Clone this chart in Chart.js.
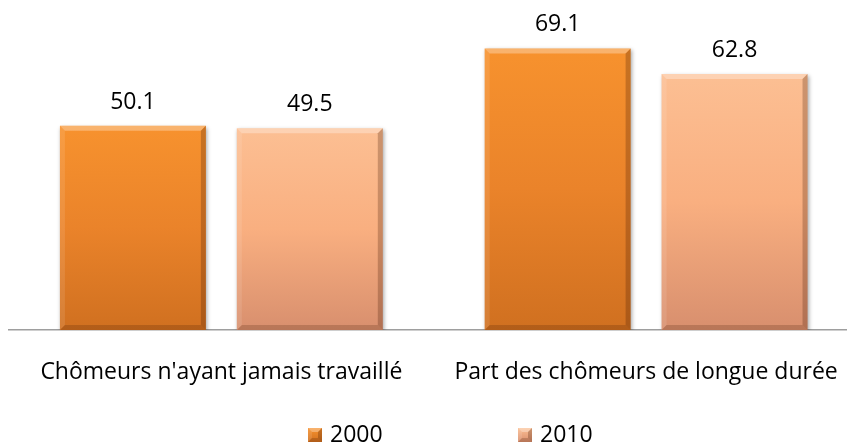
<!DOCTYPE html>
<html>
<head>
<meta charset="utf-8">
<script src="https://cdn.jsdelivr.net/npm/chart.js@4.4.1/dist/chart.umd.min.js"></script>
<style>
  html, body { margin: 0; padding: 0; background: #fff; overflow: hidden; }
</style>
</head>
<body>
<canvas id="myChart" width="847" height="446"></canvas>
<script>
const categories = ["Chômeurs n'ayant jamais travaillé", "Part des chômeurs de longue durée"];
const seriesNames = ["2000", "2010"];
const values2000 = [50.1, 69.1];
const values2010 = [49.5, 62.8];

const FONT = "'Open Sans', 'Noto Sans', sans-serif";

// top -> bottom shading of each series (Excel style bevelled bars)
const shades = [
  { top: "#f7922e", mid: "#ea832a", bottom: "#d07020" },
  { top: "#fcbf93", mid: "#f9af80", bottom: "#d88f6e" },
];

const barFill = (si) => (ctx) => {
  const chart = ctx.chart;
  if (!chart.chartArea || !ctx.parsed) return shades[si].mid;
  const yScale = chart.scales.y;
  const top = yScale.getPixelForValue(ctx.parsed.y);
  const base = yScale.getPixelForValue(0);
  const g = chart.ctx.createLinearGradient(0, top, 0, base);
  g.addColorStop(0, shades[si].top);
  g.addColorStop(0.5, shades[si].mid);
  g.addColorStop(1, shades[si].bottom);
  return g;
};

// soft shadow under the bars
const barShadow = {
  id: "barShadow",
  beforeDatasetsDraw(chart) {
    const ctx = chart.ctx;
    ctx.save();
    ctx.shadowColor = "rgba(0,0,0,0.35)";
    ctx.shadowBlur = 4;
    ctx.shadowOffsetX = 1.5;
    ctx.shadowOffsetY = 2;
  },
  afterDatasetsDraw(chart) {
    chart.ctx.restore();
  },
};

const drawBevel = (ctx, l, t, r, b, s) => {
  const faces = [
    [[l, t], [r, t], [r - s, t + s], [l + s, t + s], "rgba(255,255,255,0.3)"],
    [[l, t], [l + s, t + s], [l + s, b - s], [l, b], "rgba(255,255,255,0.1)"],
    [[r, t], [r, b], [r - s, b - s], [r - s, t + s], "rgba(60,20,0,0.25)"],
    [[l, b], [l + s, b - s], [r - s, b - s], [r, b], "rgba(60,20,0,0.2)"],
  ];
  faces.forEach((f) => {
    ctx.beginPath();
    ctx.moveTo(f[0][0], f[0][1]);
    for (let k = 1; k < 4; k++) ctx.lineTo(f[k][0], f[k][1]);
    ctx.closePath();
    ctx.fillStyle = f[4];
    ctx.fill();
  });
};

const barBevel = {
  id: "barBevel",
  afterDatasetsDraw(chart) {
    const ctx = chart.ctx;
    ctx.save();
    chart.data.datasets.forEach((ds, di) => {
      chart.getDatasetMeta(di).data.forEach((bar) => {
        const l = bar.x - bar.width / 2;
        const r = bar.x + bar.width / 2;
        drawBevel(ctx, l, bar.y, r, bar.base, 5);
      });
    });
    ctx.restore();
  },
};

const valueLabels = {
  id: "valueLabels",
  afterDatasetsDraw(chart) {
    const ctx = chart.ctx;
    ctx.save();
    ctx.font = "23px " + FONT;
    ctx.fillStyle = "#000";
    ctx.textAlign = "center";
    ctx.textBaseline = "alphabetic";
    chart.data.datasets.forEach((ds, di) => {
      chart.getDatasetMeta(di).data.forEach((bar, i) => {
        ctx.fillText(ds.data[i].y.toFixed(1), bar.x, bar.y - 17);
      });
    });
    ctx.restore();
  },
};

// legend drawn by hand: Excel leaves a wide gap between the two entries
const bottomLegend = {
  id: "bottomLegend",
  afterDraw(chart) {
    const ctx = chart.ctx;
    ctx.save();
    ctx.font = "23px " + FONT;
    ctx.textBaseline = "middle";
    ctx.textAlign = "left";
    chart.data.datasets.forEach((ds, di) => {
      const x = 308 + di * 210;
      const y = 435;
      const g = ctx.createLinearGradient(0, y - 7, 0, y + 7);
      g.addColorStop(0, shades[di].top);
      g.addColorStop(1, shades[di].bottom);
      ctx.fillStyle = g;
      ctx.fillRect(x, y - 7, 14, 14);
      drawBevel(ctx, x, y - 7, x + 14, y + 7, 4);
      ctx.fillStyle = "#000";
      ctx.fillText(ds.label, x + 22, y);
    });
    ctx.restore();
  },
};

const ctx = document.getElementById("myChart").getContext("2d");

new Chart(ctx, {
  type: "bar",
  data: {
    datasets: [
      {
        label: seriesNames[0],
        data: values2000.map((v, i) => ({ x: i, y: v })),
        backgroundColor: barFill(0),
      },
      {
        label: seriesNames[1],
        data: values2010.map((v, i) => ({ x: i, y: v })),
        backgroundColor: barFill(1),
      },
    ],
  },
  options: {
    responsive: false,
    animation: false,
    devicePixelRatio: 1,
    categoryPercentage: 0.833,
    barPercentage: 0.825,
    layout: { padding: { left: 9, right: 0, top: 4, bottom: 59 } },
    plugins: {
      legend: { display: false },
      tooltip: { enabled: false },
    },
    scales: {
      x: {
        type: "linear",
        offset: false,
        min: -0.5,
        max: 1.473,
        grid: { display: false, drawTicks: false, offset: false },
        border: { display: true, color: "#9e9e9e", width: 1.5 },
        afterBuildTicks: (scale) => {
          scale.ticks = categories.map((c, i) => ({ value: i }));
        },
        afterFit: (scale) => {
          // long labels must not squeeze the plot area
          scale.paddingLeft = 0;
          scale.paddingRight = 0;
          scale.height = 57;
        },
        ticks: {
          callback: (v) => categories[v] ?? "",
          font: { family: FONT, size: 23 },
          color: "#000",
          padding: 29,
          maxRotation: 0,
          autoSkip: false,
        },
      },
      y: {
        display: false,
        min: 0,
        max: 80,
      },
    },
  },
  plugins: [barShadow, barBevel, valueLabels, bottomLegend],
});
</script>
</body>
</html>
